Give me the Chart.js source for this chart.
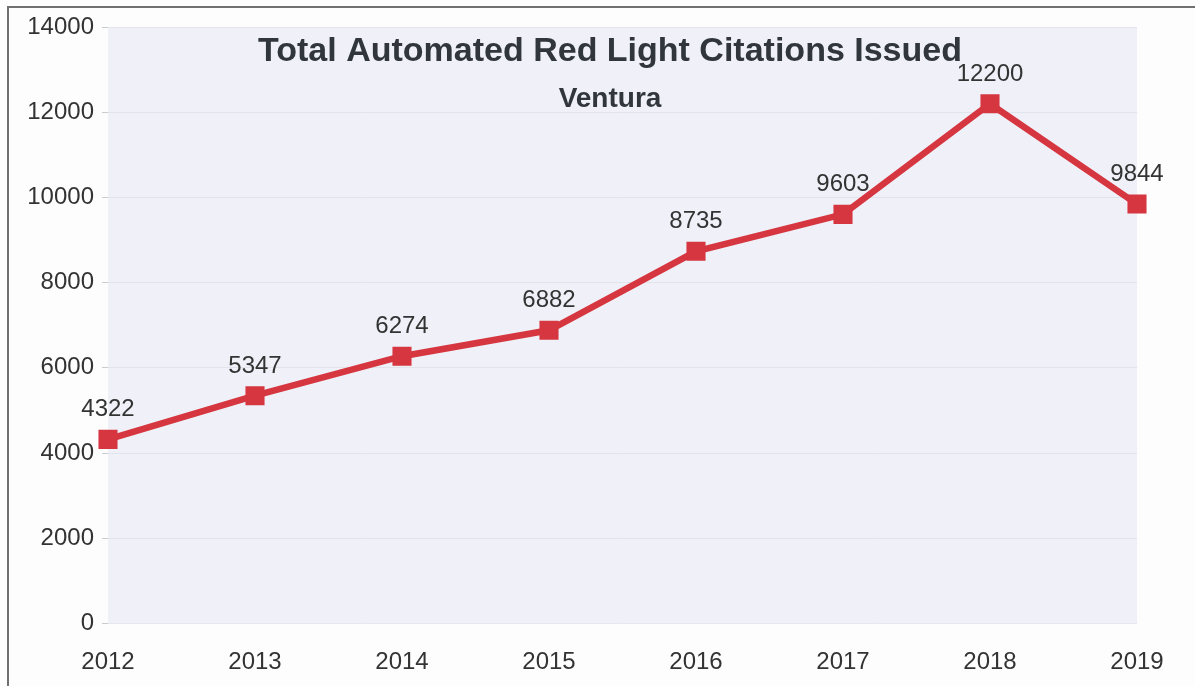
<!DOCTYPE html>
<html>
<head>
<meta charset="utf-8">
<title>Total Automated Red Light Citations Issued - Ventura</title>
<script src="https://cdn.jsdelivr.net/npm/chart.js@4.4.1/dist/chart.umd.min.js"></script>
<style>
	html, body { margin: 0; padding: 0; background: #fdfdfd; }
	.chart-wrap { position: relative; width: 1195px; height: 686px; }
	.chart-wrap::before {
		content: ''; position: absolute; left: 7px; top: 6px; right: 0; bottom: 0;
		border-top: 2px solid #707070; border-left: 2px solid #707070; pointer-events: none;
	}
</style>
</head>
<body>
<div class="chart-wrap"><canvas id="citationsChart" width="1195" height="686"></canvas></div>
<script>
var years = ['2012', '2013', '2014', '2015', '2016', '2017', '2018', '2019'];
var citations = [4322, 5347, 6274, 6882, 8735, 9603, 12200, 9844];
var yTicks = [0, 2000, 4000, 6000, 8000, 10000, 12000, 14000];
var chartTitle = 'Total Automated Red Light Citations Issued';
var chartSubtitle = 'Ventura';

(function () {
	'use strict';

	var FONT = '"Liberation Sans", Arial, sans-serif';
	var TEXT = '#333333';
	var RED = '#d6363f';

	// nền tím nhạt cho vùng vẽ
	var plotBg = {
		id: 'plotBg',
		beforeDraw: function (chart) {
			var a = chart.chartArea;
			var ctx = chart.ctx;
			ctx.save();
			ctx.fillStyle = '#eff0f8';
			ctx.fillRect(a.left, a.top, a.right - a.left, a.bottom - a.top);
			ctx.restore();
		},
	};

	var titles = {
		id: 'titles',
		afterDraw: function (chart) {
			var ctx = chart.ctx;
			var cx = 610;
			ctx.save();
			ctx.fillStyle = '#30363b';
			ctx.textAlign = 'center';
			ctx.textBaseline = 'alphabetic';
			ctx.font = 'bold 34px ' + FONT;
			ctx.fillText(chartTitle, cx, 61);
			ctx.font = 'bold 28px ' + FONT;
			ctx.fillText(chartSubtitle, cx, 107);
			ctx.restore();
		},
	};

	var pointLabels = {
		id: 'pointLabels',
		afterDatasetsDraw: function (chart) {
			var ctx = chart.ctx;
			var meta = chart.getDatasetMeta(0);
			ctx.save();
			ctx.fillStyle = TEXT;
			ctx.font = '24px ' + FONT;
			ctx.textAlign = 'center';
			ctx.textBaseline = 'alphabetic';
			meta.data.forEach(function (pt, i) {
				ctx.fillText(String(citations[i]), pt.x, pt.y - 23);
			});
			ctx.restore();
		},
	};

	new Chart(document.getElementById('citationsChart'), {
		type: 'line',
		data: {
			labels: years,
			datasets: [{
				label: chartSubtitle,
				data: citations,
				borderColor: RED,
				backgroundColor: RED,
				borderWidth: 6.5,
				tension: 0,
				pointStyle: 'rect',
				pointRadius: 13.5,
				pointBorderWidth: 0,
				pointBackgroundColor: RED,
			}],
		},
		options: {
			responsive: false,
			animation: false,
			layout: { padding: { left: 0, top: 27, right: 58, bottom: 0 } },
			plugins: {
				legend: { display: false },
				tooltip: { enabled: false },
				title: { display: false },
			},
			scales: {
				x: {
					offset: false,
					grid: { display: false },
					border: { display: false },
					ticks: {
						color: TEXT,
						font: { family: FONT, size: 24 },
						padding: 16,
						maxRotation: 0,
					},
					afterFit: function (s) { s.height = 62.5; },
				},
				y: {
					min: 0,
					max: 14000,
					afterBuildTicks: function (s) {
						s.ticks = yTicks.map(function (v) { return { value: v }; });
					},
					grid: {
						color: 'rgba(210, 212, 220, 0.45)',
						tickColor: 'rgba(190, 190, 195, 0.8)',
						tickLength: 6,
					},
					border: { display: false },
					ticks: {
						color: TEXT,
						font: { family: FONT, size: 24 },
						padding: 8,
						callback: function (v) { return String(v); },
					},
					afterFit: function (s) { s.width = 108; },
				},
			},
		},
		plugins: [plotBg, pointLabels, titles],
	});
})();
</script>
</body>
</html>
